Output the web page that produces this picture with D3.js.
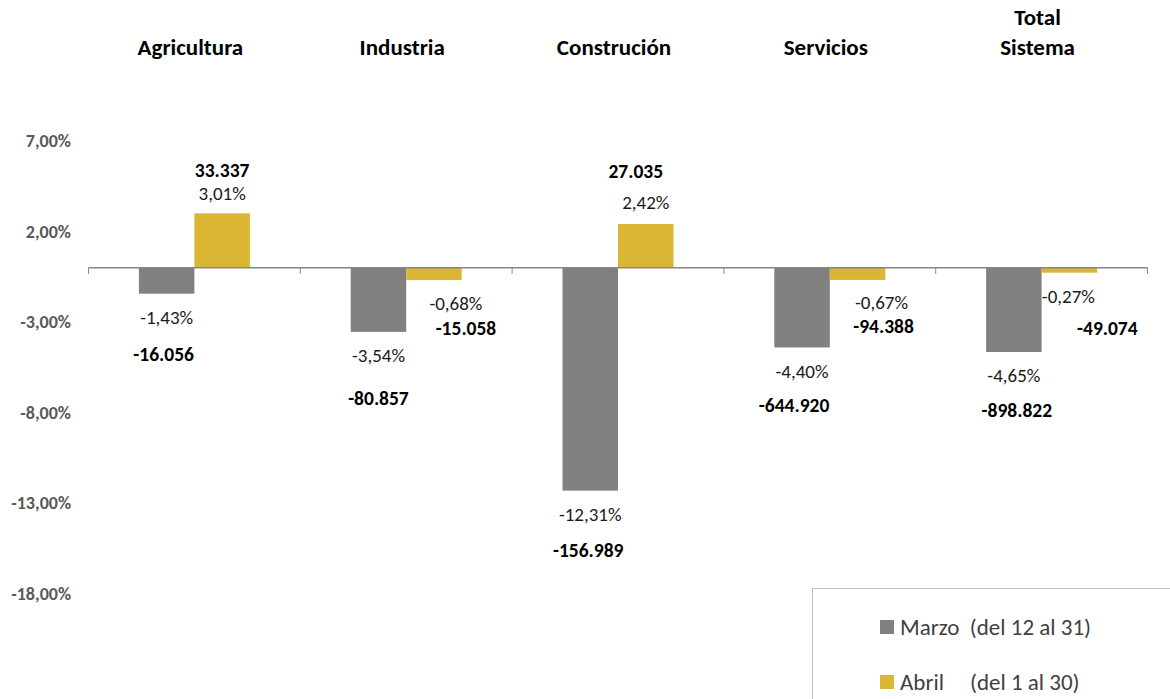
<!DOCTYPE html>
<html>
<head>
<meta charset="utf-8" />
<title></title>
<style>
    body { margin: 0; background: #fff; }
    svg { display: block; font-family: Carlito, Calibri, Lato, sans-serif; }
</style>
</head>
<body>
<div id="chart"></div>
<script src="https://cdn.jsdelivr.net/npm/d3@7"></script>
<script>
    var categories = ["Agricultura", "Industria", "Construción", "Servicios", "Total Sistema"];
    var series = ["Marzo", "Abril"];
    var seriesLegend = ["Marzo  (del 12 al 31)", "Abril     (del 1 al 30)"];
    var marzoPct = [-1.43, -3.54, -12.31, -4.40, -4.65];
    var abrilPct = [3.01, -0.68, 2.42, -0.67, -0.27];
    var marzoCount = [-16056, -80857, -156989, -644920, -898822];
    var abrilCount = [33337, -15058, 27035, -94388, -49074];
    var yTicks = [7, 2, -3, -8, -13, -18];

    var width = 1170, height = 699;
    var colors = ["#808080", "#dbb534"];

    // label nudges (Excel labels were dragged by hand)
    var pctNudge = [
        [[0, 0], [0, 0], [0, 0], [0, 0], [0, 0]],
        [[0, 1], [22, -1], [0, 0], [24, -1], [-1, 0]]
    ];
    var valNudge = [
        [[-3, 36], [0, 42], [-2, 35], [-8, 34], [3, 34]],
        [[0, -23], [10, 25], [-10, -32], [2, 23], [39, 31]]
    ];

    var loc = d3.formatLocale({ decimal: ",", thousands: ".", grouping: [3], currency: ["", ""], minus: "-" });
    var fmtPct = v => loc.format(",.2f")(v) + "%";
    var fmtNum = loc.format(",d");

    var svg = d3.select("#chart").append("svg")
        .attr("width", width).attr("height", height);

    var x = d3.scaleBand().domain(categories).range([88.5, 1147.5]);
    var bw = x.bandwidth();
    var xs = d3.scaleBand().domain(series).range([bw * 0.238, bw * 0.762]);
    var y = d3.scaleLinear().domain([-18, 7]).range([593.6, 141.1]);

    // y labels
    svg.append("g")
        .selectAll("text")
        .data(yTicks)
        .join("text")
        .attr("x", 71)
        .attr("y", d => y(d))
        .attr("text-anchor", "end")
        .attr("dominant-baseline", "central")
        .attr("font-size", 18)
        .attr("font-weight", "bold")
        .attr("fill", "#595959")
        .text(d => fmtPct(d));

    // bars
    var pcts = [marzoPct, abrilPct];
    var counts = [marzoCount, abrilCount];
    var rows = [];
    series.forEach((s, si) => categories.forEach((c, ci) => rows.push({ s, si, c, ci, v: pcts[si][ci], n: counts[si][ci] })));

    svg.append("g")
        .selectAll("rect")
        .data(rows)
        .join("rect")
        .attr("x", d => x(d.c) + xs(d.s))
        .attr("width", xs.bandwidth())
        .attr("y", d => y(Math.max(0, d.v)))
        .attr("height", d => Math.abs(y(d.v) - y(0)))
        .attr("fill", d => colors[d.si]);

    // zero axis with ticks on category borders
    var axis = svg.append("g").attr("stroke", "#868686").attr("stroke-width", 1.5);
    axis.append("line")
        .attr("x1", 88.5).attr("x2", 1147.5)
        .attr("y1", y(0)).attr("y2", y(0));
    axis.selectAll(".tk")
        .data(categories.map(c => x(c)).concat([1147.5]))
        .join("line")
        .attr("x1", d => d).attr("x2", d => d)
        .attr("y1", y(0)).attr("y2", y(0) + 6)
        .attr("stroke-width", 1);

    // data labels
    function pctPos(d) {
        var cx = x(d.c) + xs(d.s) + xs.bandwidth() / 2;
        var cy = d.v < 0 ? y(d.v) + 24 : y(d.v) - 21;
        var nd = pctNudge[d.si][d.ci];
        return [cx + nd[0], cy + nd[1]];
    }
    var lbl = svg.append("g").attr("fill", "#000").attr("text-anchor", "middle").attr("dominant-baseline", "central");
    lbl.selectAll(".pct")
        .data(rows)
        .join("text")
        .attr("x", d => pctPos(d)[0])
        .attr("y", d => pctPos(d)[1])
        .attr("font-size", 19)
        .attr("fill", "#1a1a1a")
        .text(d => fmtPct(d.v));
    lbl.selectAll(".num")
        .data(rows)
        .join("text")
        .attr("x", d => pctPos(d)[0] + valNudge[d.si][d.ci][0])
        .attr("y", d => pctPos(d)[1] + valNudge[d.si][d.ci][1])
        .attr("font-size", 19.5)
        .attr("font-weight", "bold")
        .text(d => fmtNum(d.n));

    // category headers
    svg.append("g")
        .selectAll("text")
        .data(categories)
        .join("text")
        .attr("x", d => x(d) + bw / 2 - 4)
        .attr("y", 47)
        .attr("text-anchor", "middle")
        .attr("dominant-baseline", "central")
        .attr("font-size", 23)
        .attr("font-weight", "bold")
        .attr("fill", "#000")
        .each(function (d) {
            var words = d.split(" ");
            var t = d3.select(this);
            if (words.length > 1) {
                t.attr("y", 17);
                words.forEach((w, i) => t.append("tspan").attr("x", x(d) + bw / 2 - 4).attr("dy", i ? 30 : 0).text(w));
            } else t.text(d);
        });

    // legend
    var lg = svg.append("g");
    lg.append("rect")
        .attr("x", 812.5).attr("y", 588.5)
        .attr("width", 400).attr("height", 140)
        .attr("fill", "#fff").attr("stroke", "#bfbfbf");
    var li = lg.selectAll("g.it")
        .data(seriesLegend)
        .join("g")
        .attr("transform", (d, i) => `translate(880, ${620 + i * 55})`);
    li.append("rect").attr("width", 14).attr("height", 14).attr("fill", (d, i) => colors[i]);
    li.append("text")
        .attr("x", 20).attr("y", 7)
        .attr("dominant-baseline", "central")
        .attr("font-size", 23)
        .attr("fill", "#404040")
        .style("white-space", "pre")
        .text(d => d);
</script>
</body>
</html>
